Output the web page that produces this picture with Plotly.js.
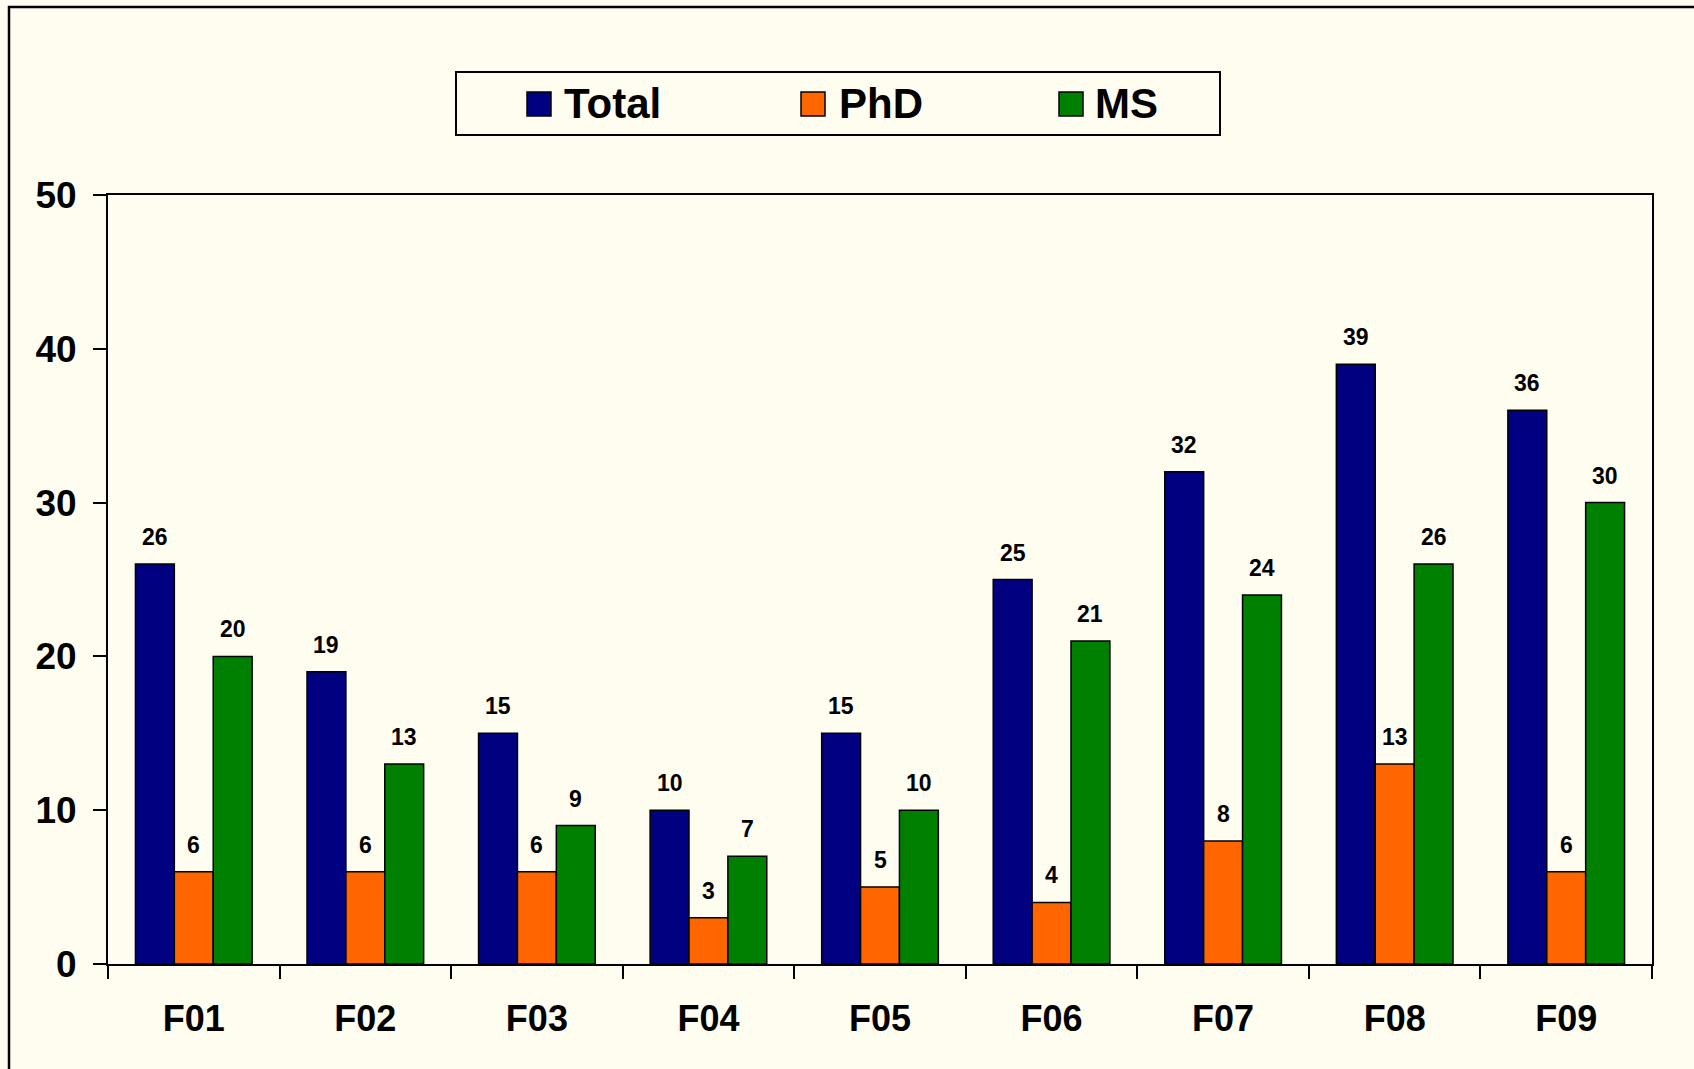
<!DOCTYPE html>
<html>
<head>
<meta charset="utf-8">
<script src="https://cdn.plot.ly/plotly-3.0.1.min.js"></script>
<style>
  html, body { margin: 0; padding: 0; background: #FFFDF0; overflow: hidden; }
  #chart { width: 1694px; height: 1069px; }
</style>
</head>
<body>
<div id="chart"></div>
<script>
// ---- Data ----
const categories = ['F01', 'F02', 'F03', 'F04', 'F05', 'F06', 'F07', 'F08', 'F09'];
const totalValues = [26, 19, 15, 10, 15, 25, 32, 39, 36];
const phdValues = [6, 6, 6, 3, 5, 4, 8, 13, 6];
const msValues = [20, 13, 9, 7, 10, 21, 24, 26, 30];
const seriesNames = ['Total', 'PhD', 'MS'];
const seriesColors = ['#000080', '#FF6600', '#008000'];
const yTickValues = [0, 10, 20, 30, 40, 50];

// ---- Layout / style constants ----
const W = 1694, H = 1069;
const M = { l: 108, r: 42, t: 195, b: 105 };
const plotW = W - M.l - M.r, plotH = H - M.t - M.b;
const px2x = px => (px - M.l) / plotW;
const py2y = py => (H - M.b - py) / plotH;
const FONT = 'Liberation Sans, Arial, Helvetica, sans-serif';
const BG = '#FFFDF0';
const bargap = 0.32;

const seriesValues = [totalValues, phdValues, msValues];

const traces = seriesValues.map((vals, k) => ({
  type: 'bar',
  name: seriesNames[k],
  x: categories,
  y: vals,
  marker: { color: seriesColors[k], line: { color: '#000000', width: 1.5 } },
  showlegend: false,
  hoverinfo: 'x+y+name'
}));

// data labels above bars
const annotations = [];
const barW = (1 - bargap) / seriesValues.length;
seriesValues.forEach((vals, k) => {
  const off = (k - (seriesValues.length - 1) / 2) * barW;
  vals.forEach((v, i) => {
    annotations.push({
      x: i + off, y: v, xref: 'x', yref: 'y',
      text: String(v), showarrow: false,
      yanchor: 'bottom', xanchor: 'center', yshift: 12,
      font: { family: FONT, size: 23, color: '#000000', weight: 'bold' }
    });
  });
});

// custom legend
const legendSquaresPx = [527, 801, 1059];
const legendTextPx = [562, 837, 1093];
const shapes = [];
// outer frame (left and top visible)
shapes.push({
  type: 'rect', xref: 'paper', yref: 'paper', layer: 'above',
  x0: px2x(9), x1: px2x(W + 50), y0: py2y(7), y1: py2y(H + 50),
  line: { color: '#000000', width: 2.5 }, fillcolor: 'rgba(0,0,0,0)'
});
// legend box
shapes.push({
  type: 'rect', xref: 'paper', yref: 'paper',
  x0: px2x(456), x1: px2x(1220), y0: py2y(72), y1: py2y(135),
  line: { color: '#000000', width: 2 }, fillcolor: BG
});
seriesNames.forEach((name, k) => {
  shapes.push({
    type: 'rect', xref: 'paper', yref: 'paper',
    x0: px2x(legendSquaresPx[k]), x1: px2x(legendSquaresPx[k] + 24),
    y0: py2y(92), y1: py2y(116),
    line: { color: '#000000', width: 1.5 }, fillcolor: seriesColors[k]
  });
  annotations.push({
    xref: 'paper', yref: 'paper',
    x: px2x(legendTextPx[k]), y: py2y(103),
    xanchor: 'left', yanchor: 'middle', showarrow: false,
    text: name,
    font: { family: FONT, size: 42, color: '#000000', weight: 'bold' }
  });
});

const layout = {
  width: W, height: H,
  margin: M,
  paper_bgcolor: BG,
  plot_bgcolor: BG,
  barmode: 'group',
  bargap: bargap,
  bargroupgap: 0,
  showlegend: false,
  xaxis: {
    type: 'category',
    tickson: 'boundaries',
    ticks: 'outside', ticklen: 13, tickwidth: 2, tickcolor: '#000000',
    showline: true, linecolor: '#000000', linewidth: 2, mirror: true,
    showgrid: false, zeroline: false,
    ticklabelstandoff: 22,
    tickfont: { family: FONT, size: 36, color: '#000000', weight: 'bold' }
  },
  yaxis: {
    range: [0, 50],
    tickvals: yTickValues,
    ticktext: yTickValues.map(String),
    ticks: 'outside', ticklen: 13, tickwidth: 2, tickcolor: '#000000',
    showline: true, linecolor: '#000000', linewidth: 2, mirror: true,
    showgrid: false, zeroline: false,
    ticklabelstandoff: 9,
    tickfont: { family: FONT, size: 37, color: '#000000', weight: 'bold' }
  },
  shapes: shapes,
  annotations: annotations
};

Plotly.newPlot('chart', traces, layout, { displayModeBar: false, staticPlot: true });
</script>
</body>
</html>
